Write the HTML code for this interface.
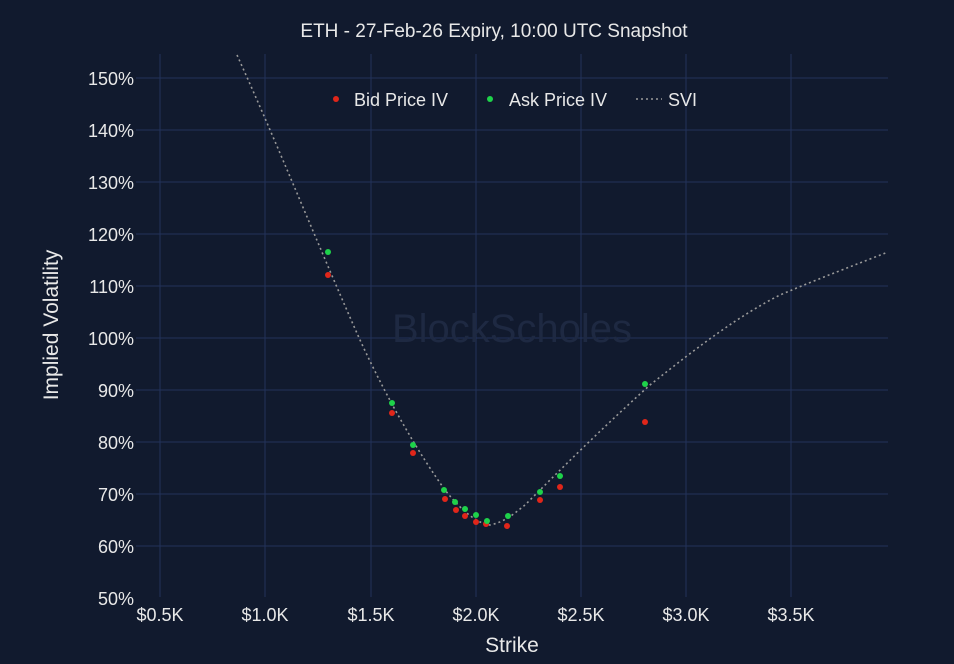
<!DOCTYPE html>
<html><head><meta charset="utf-8"><style>
body{margin:0;background:#111a2e;}
svg{display:block;font-family:"Liberation Sans","DejaVu Sans",sans-serif;}
</style></head><body>
<svg width="954" height="664" viewBox="0 0 954 664">
<rect width="954" height="664" fill="#111a2e"/>
<g stroke="#22325a" stroke-width="1">
<line x1="160" y1="54" x2="160" y2="597"/><line x1="265" y1="54" x2="265" y2="597"/>
<line x1="371" y1="54" x2="371" y2="597"/><line x1="476" y1="54" x2="476" y2="597"/>
<line x1="581" y1="54" x2="581" y2="597"/><line x1="686" y1="54" x2="686" y2="597"/>
<line x1="791" y1="54" x2="791" y2="597"/>
<line x1="136" y1="78" x2="888" y2="78"/><line x1="136" y1="130" x2="888" y2="130"/>
<line x1="136" y1="182" x2="888" y2="182"/><line x1="136" y1="234" x2="888" y2="234"/>
<line x1="136" y1="286" x2="888" y2="286"/><line x1="136" y1="338" x2="888" y2="338"/>
<line x1="136" y1="390" x2="888" y2="390"/><line x1="136" y1="442" x2="888" y2="442"/>
<line x1="136" y1="494" x2="888" y2="494"/><line x1="136" y1="546" x2="888" y2="546"/>
</g>
<text x="512" y="342" font-size="40" fill="#1e2942" text-anchor="middle">BlockScholes</text>
<text x="494" y="37" font-size="19" fill="#e8e8e8" text-anchor="middle">ETH - 27-Feb-26 Expiry, 10:00 UTC Snapshot</text>
<g font-size="18" fill="#e8e8e8" text-anchor="end">
<text x="134" y="85">150%</text><text x="134" y="137">140%</text><text x="134" y="189">130%</text>
<text x="134" y="241">120%</text><text x="134" y="293">110%</text><text x="134" y="345">100%</text>
<text x="134" y="397">90%</text><text x="134" y="449">80%</text><text x="134" y="501">70%</text>
<text x="134" y="553">60%</text><text x="134" y="605">50%</text>
</g>
<g font-size="18" fill="#e8e8e8" text-anchor="middle">
<text x="160" y="621">$0.5K</text><text x="265" y="621">$1.0K</text><text x="371" y="621">$1.5K</text>
<text x="476" y="621">$2.0K</text><text x="581" y="621">$2.5K</text><text x="686" y="621">$3.0K</text>
<text x="791" y="621">$3.5K</text>
</g>
<text x="512" y="652" font-size="21" fill="#e8e8e8" text-anchor="middle">Strike</text>
<text transform="translate(58,325) rotate(-90)" font-size="21" fill="#e8e8e8" text-anchor="middle">Implied Volatility</text>
<path d="M237,55 C280,150 320,250 360,340 C390,405 420,455 445,490 C465,515 480,524 490,525 C505,522 515,513 525,505 C560,470 600,430 650,385 C700,345 740,315 780,295 C820,278 855,265 888,252" fill="none" stroke="#9a9a9a" stroke-width="1.6" stroke-dasharray="2,3"/>
<g fill="#e0261a">
<circle cx="328" cy="275" r="3"/><circle cx="392" cy="413" r="3"/><circle cx="413" cy="453" r="3"/>
<circle cx="445" cy="499" r="3"/><circle cx="456" cy="510" r="3"/><circle cx="465" cy="516" r="3"/>
<circle cx="476" cy="522" r="3"/><circle cx="486" cy="524" r="3"/><circle cx="507" cy="526" r="3"/>
<circle cx="540" cy="500" r="3"/><circle cx="560" cy="487" r="3"/><circle cx="645" cy="422" r="3"/>
</g>
<g fill="#1ed24a">
<circle cx="328" cy="252" r="3"/><circle cx="392" cy="403" r="3"/><circle cx="413" cy="445" r="3"/>
<circle cx="444" cy="490" r="3"/><circle cx="455" cy="502" r="3"/><circle cx="465" cy="509" r="3"/>
<circle cx="476" cy="515" r="3"/><circle cx="487" cy="521" r="3"/><circle cx="508" cy="516" r="3"/>
<circle cx="540" cy="492" r="3"/><circle cx="560" cy="476" r="3"/><circle cx="645" cy="384" r="3"/>
</g>
<circle cx="336" cy="99" r="3" fill="#e0261a"/>
<text x="354" y="106" font-size="18" fill="#e8e8e8">Bid Price IV</text>
<circle cx="490" cy="99" r="3" fill="#1ed24a"/>
<text x="509" y="106" font-size="18" fill="#e8e8e8">Ask Price IV</text>
<line x1="636" y1="99" x2="662" y2="99" stroke="#9a9a9a" stroke-width="1.6" stroke-dasharray="2,3"/>
<text x="668" y="106" font-size="18" fill="#e8e8e8">SVI</text>
</svg>
</body></html>
